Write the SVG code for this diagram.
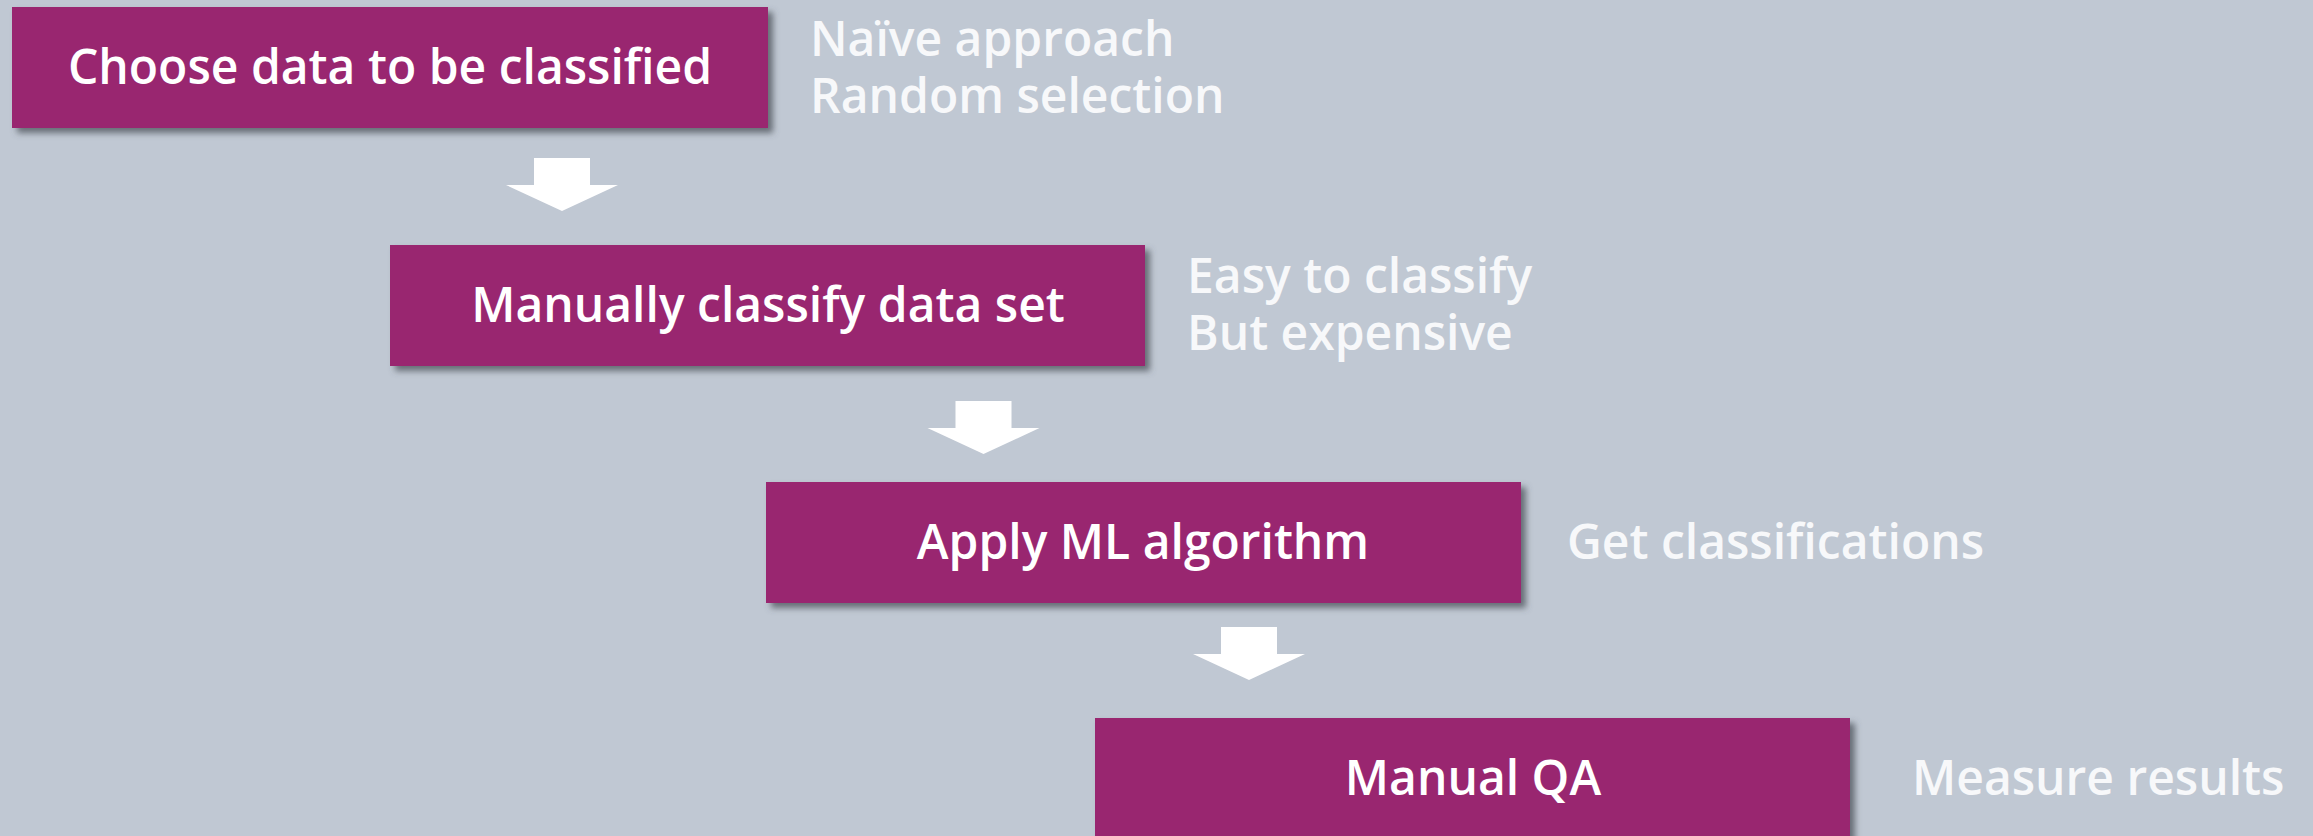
<svg xmlns="http://www.w3.org/2000/svg" width="2313" height="836" viewBox="0 0 2313 836">
  <defs>
    <filter id="drop" x="-5%" y="-20%" width="115%" height="150%">
      <feGaussianBlur in="SourceAlpha" stdDeviation="3"/>
      <feOffset dx="5" dy="5" result="b"/>
      <feFlood flood-color="#4a5058" flood-opacity="0.75"/>
      <feComposite in2="b" operator="in"/>
      <feMerge>
        <feMergeNode/>
        <feMergeNode in="SourceGraphic"/>
      </feMerge>
    </filter>
    <path id="down" d="M-28,0 H28 V27 H56 L0,53 L-56,27 H-28 Z"/>
  </defs>
  <style>
    .box { fill: #99256f; filter: url(#drop); }
    .lbl { font-family: "Open Sans", "Liberation Sans", sans-serif; font-weight: 600; font-size: 48px; fill: #ffffff; text-anchor: middle; }
    .note { font-family: "Open Sans", "Liberation Sans", sans-serif; font-weight: 600; font-size: 48px; fill: #f7f8fa; }
    .arrow { fill: #ffffff; }
  </style>

  <rect width="2313" height="836" fill="#c0c8d3"/>

  <g id="connectors">
    <use href="#down" class="arrow" x="562" y="158"/>
    <use href="#down" class="arrow" x="983.5" y="401"/>
    <use href="#down" class="arrow" x="1249" y="627"/>
  </g>

  <g id="step-choose">
    <rect class="box" x="12" y="7" width="756" height="121"/>
    <text class="lbl" x="390" y="84">Choose data to be classified</text>
    <text class="note" x="810" y="56">Naïve approach</text>
    <text class="note" x="810" y="113">Random selection</text>
  </g>

  <g id="step-manual">
    <rect class="box" x="390" y="245" width="755" height="121"/>
    <text class="lbl" x="768" y="322">Manually classify data set</text>
    <text class="note" x="1187" y="293">Easy to classify</text>
    <text class="note" x="1187" y="350">But expensive</text>
  </g>

  <g id="step-ml">
    <rect class="box" x="766" y="482" width="755" height="121"/>
    <text class="lbl" x="1143" y="559">Apply ML algorithm</text>
    <text class="note" x="1567" y="559">Get classifications</text>
  </g>

  <g id="step-qa">
    <rect class="box" x="1095" y="718" width="755" height="130"/>
    <text class="lbl" x="1473" y="795">Manual QA</text>
    <text class="note" x="1912" y="795">Measure results</text>
  </g>
</svg>
